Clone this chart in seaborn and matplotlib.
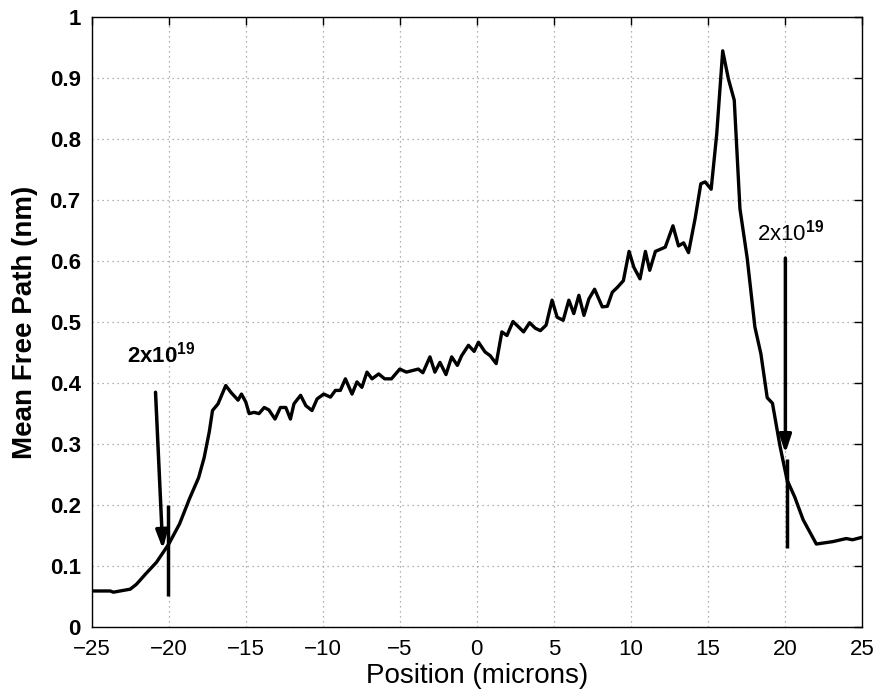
import matplotlib
matplotlib.use("Agg")
import matplotlib.pyplot as plt
import seaborn as sns
import pandas as pd

# ---- data ----
position = [-25.0, -23.8, -23.6, -22.5, -22.1, -21.5, -20.8, -20.0, -19.3, -18.66, -18.06, -17.7,
            -17.37, -17.16, -16.8, -16.3, -15.97, -15.5, -15.28, -15.0, -14.78, -14.46, -14.14,
            -13.8, -13.5, -13.1, -12.75, -12.4, -12.1, -11.87, -11.44, -11.1, -10.7, -10.37,
            -9.94, -9.5, -9.18, -8.86, -8.53, -8.1, -7.78, -7.46, -7.13, -6.8, -6.37,
            -5.98, -5.54, -5.0, -4.57, -3.8, -3.5, -3.04, -2.72, -2.39, -2.0, -1.63, -1.26,
            -0.98, -0.54, -0.17, 0.11, 0.54, 0.87, 1.26, 1.63, 1.96, 2.35, 2.72, 3.04, 3.43,
            3.8, 4.13, 4.5, 4.89, 5.22, 5.61, 5.98, 6.3, 6.63, 6.96, 7.28, 7.65, 8.15, 8.48,
            8.8, 9.13, 9.52, 9.89, 10.2, 10.6, 10.95, 11.23, 11.6, 12.24, 12.74, 13.1, 13.43,
            13.75, 14.18, 14.55, 14.83, 15.22, 15.58, 15.97, 16.34, 16.72, 17.09, 17.56,
            18.06, 18.45, 18.86, 19.2, 19.68, 20.15, 20.65, 21.19, 22.05, 23.13, 23.99,
            24.4, 25.0]
mfp = [0.059, 0.059, 0.057, 0.062, 0.070, 0.087, 0.106, 0.136, 0.169, 0.210, 0.245, 0.278,
       0.320, 0.355, 0.366, 0.396, 0.385, 0.372, 0.382, 0.369, 0.350, 0.352, 0.350,
       0.360, 0.356, 0.341, 0.360, 0.360, 0.341, 0.366, 0.380, 0.363, 0.355, 0.374,
       0.382, 0.377, 0.388, 0.388, 0.407, 0.382, 0.402, 0.393, 0.418, 0.407, 0.415,
       0.407, 0.407, 0.423, 0.418, 0.423, 0.417, 0.443, 0.418, 0.434, 0.414, 0.443, 0.429,
       0.445, 0.462, 0.452, 0.467, 0.451, 0.445, 0.432, 0.484, 0.478, 0.501, 0.492, 0.484, 0.499,
       0.490, 0.486, 0.495, 0.536, 0.508, 0.503, 0.536, 0.514, 0.544, 0.511, 0.538, 0.554, 0.525, 0.526,
       0.549, 0.557, 0.568, 0.616, 0.590, 0.571, 0.616, 0.585, 0.616, 0.623, 0.658, 0.625, 0.630,
       0.614, 0.670, 0.727, 0.730, 0.718, 0.808, 0.945, 0.899, 0.864, 0.686, 0.605,
       0.492, 0.448, 0.376, 0.367, 0.298, 0.241, 0.213, 0.176, 0.136, 0.140, 0.145,
       0.143, 0.147]

x_ticks = [-25, -20, -15, -10, -5, 0, 5, 10, 15, 20, 25]
x_tick_labels = ["\u221225", "\u221220", "\u221215", "\u221210", "\u22125", "0", "5", "10", "15", "20", "25"]
y_ticks = [0, 0.1, 0.2, 0.3, 0.4, 0.5, 0.6, 0.7, 0.8, 0.9, 1]
y_tick_labels = ["0", "0.1", "0.2", "0.3", "0.4", "0.5", "0.6", "0.7", "0.8", "0.9", "1"]

# annotations: text anchor, arrow start, arrow tip, marker line x, marker line y-range
ann_label = r"2x10$^{\mathbf{19}}$"
left_text = (-20.5, 0.425)
left_arrow_start = (-20.86, 0.385)
left_arrow_tip = (-20.39, 0.128)
left_marker_x = -20.06
left_marker_y = (0.05, 0.20)
right_text = (20.4, 0.625)
right_arrow_start = (20.04, 0.605)
right_arrow_tip = (20.04, 0.285)
right_marker_x = 20.15
right_marker_y = (0.13, 0.275)

df = pd.DataFrame({"Position": position, "MFP": mfp})

sns.set_theme(style="white")
plt.rcParams["font.family"] = ["Liberation Sans", "DejaVu Sans"]
plt.rcParams["text.color"] = "black"
plt.rcParams["axes.labelcolor"] = "black"
plt.rcParams["mathtext.fontset"] = "custom"
plt.rcParams["mathtext.rm"] = "Liberation Sans"
plt.rcParams["mathtext.bf"] = "Liberation Sans:bold"

fig = plt.figure(figsize=(8.74, 6.92), dpi=100)
ax = fig.add_axes([0.105, 0.094, 0.881, 0.881])

sns.lineplot(data=df, x="Position", y="MFP", ax=ax, color="black", linewidth=2.4,
             sort=False, estimator=None)

ax.set_xlim(-25, 25)
ax.set_ylim(0, 1)
ax.set_xticks(x_ticks)
ax.set_xticklabels(x_tick_labels, fontsize=16)
ax.set_yticks(y_ticks)
ax.set_yticklabels(y_tick_labels, fontsize=16, fontweight="bold")
ax.tick_params(direction="in", length=6, width=1, top=True, right=True, colors="black")
ax.tick_params(axis="x", pad=9)
ax.tick_params(axis="y", pad=8)
ax.grid(True, linestyle=(0, (1, 3)), color="#999999", linewidth=0.9)
for s in ax.spines.values():
    s.set_visible(True)
    s.set_color("black")
    s.set_linewidth(1.0)

ax.set_xlabel("Position (microns)", fontsize=20, labelpad=2)
ax.set_ylabel("Mean Free Path (nm)", fontsize=20, fontweight="bold", labelpad=8)

arrow_kw = dict(arrowstyle="-|>,head_length=0.9,head_width=0.3", color="black", lw=2.5,
                shrinkA=0, shrinkB=0)
ax.annotate("", xy=left_arrow_tip, xytext=left_arrow_start, arrowprops=arrow_kw, zorder=4)
ax.annotate("", xy=right_arrow_tip, xytext=right_arrow_start, arrowprops=arrow_kw, zorder=4)
ax.vlines(left_marker_x, *left_marker_y, color="black", lw=2.5, zorder=4)
ax.vlines(right_marker_x, *right_marker_y, color="black", lw=2.5, zorder=4)

ax.text(*left_text, ann_label, fontsize=16, fontweight="bold", ha="center", va="bottom", color="black")
ax.text(*right_text, ann_label, fontsize=16, ha="center", va="bottom", color="black")

fig.savefig("out.png", dpi=100)
